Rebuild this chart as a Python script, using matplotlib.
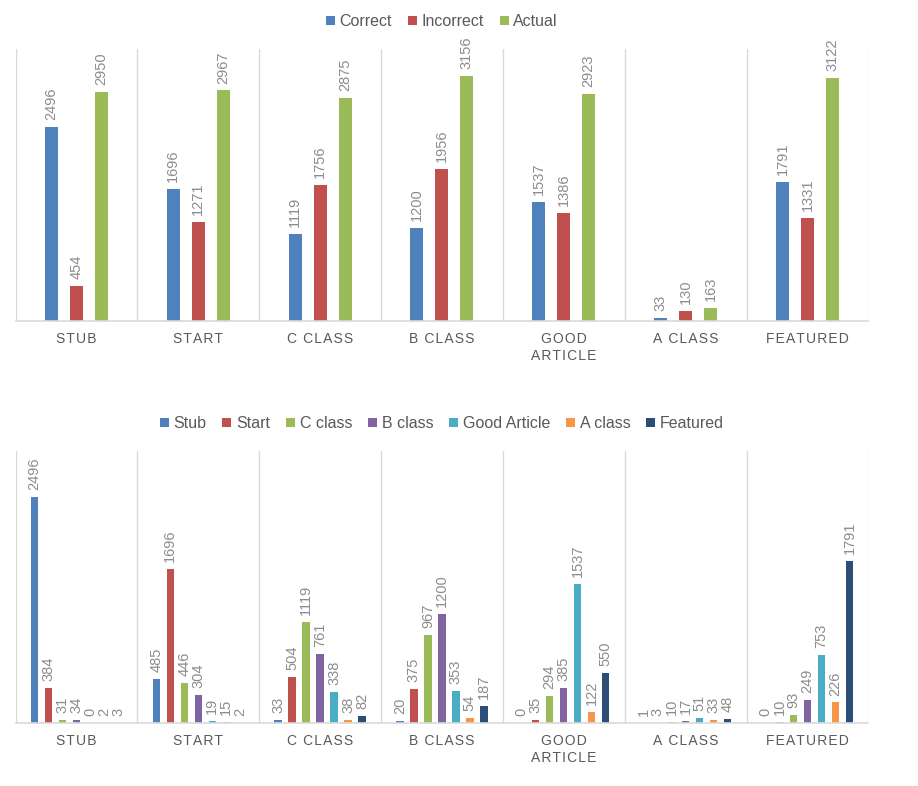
import numpy as np
import matplotlib.pyplot as plt

plt.rcParams['font.family'] = ['Liberation Sans', 'DejaVu Sans']

categories = ['Stub', 'Start', 'C class', 'B class', 'Good\nArticle', 'A class', 'Featured']

# top chart
correct = [2496, 1696, 1119, 1200, 1537, 33, 1791]
incorrect = [454, 1271, 1756, 1956, 1386, 130, 1331]
actual = [2950, 2967, 2875, 3156, 2923, 163, 3122]

# bottom chart: one series per predicted class
series_names = ['Stub', 'Start', 'C class', 'B class', 'Good Article', 'A class', 'Featured']
stub = [2496, 485, 33, 20, 0, 1, 0]
start = [384, 1696, 504, 375, 35, 3, 10]
c_class = [31, 446, 1119, 967, 294, 10, 93]
b_class = [34, 304, 761, 1200, 385, 17, 249]
good_article = [0, 19, 338, 353, 1537, 51, 753]
a_class = [2, 15, 38, 54, 122, 33, 226]
featured = [3, 2, 82, 187, 550, 48, 1791]

top_colors = ['#4F81BD', '#C0504D', '#9BBB59']
bottom_colors = ['#4F81BD', '#C0504D', '#9BBB59', '#8064A2', '#4BACC6', '#F79646', '#2C4D75']

grid_color = '#D9D9D9'
text_color = '#595959'
label_color = '#8C8C8C'


def spaced(s):
    # mimic Excel's letter spacing on category labels
    return '\n'.join('\u200a'.join(line.upper()) for line in s.split('\n'))


def style_axes(ax, ymax):
    x = np.arange(len(categories))
    ax.set_xlim(-0.5, len(categories) - 0.5)
    ax.set_ylim(0, ymax)
    ax.set_yticks([])
    ax.set_xticks(x)
    ax.set_xticklabels([spaced(c) for c in categories], fontsize=10,
                       color=text_color, linespacing=1.3)
    ax.set_xticks(np.arange(len(categories) + 1) - 0.5, minor=True)
    ax.tick_params(which='both', length=0, pad=8)
    ax.grid(which='minor', axis='x', color=grid_color, lw=1)
    for s in ['top', 'right', 'left']:
        ax.spines[s].set_visible(False)
    ax.spines['bottom'].set_color(grid_color)
    ax.spines['bottom'].set_linewidth(1.2)


def add_labels(ax, rects):
    for r in rects:
        ax.annotate(str(int(r.get_height())),
                    (r.get_x() + r.get_width() / 2, r.get_height()),
                    xytext=(0, 5), textcoords='offset points',
                    ha='center', va='bottom', rotation=90,
                    fontsize=10.5, color=label_color)


def add_legend(ax, ncol):
    ax.legend(loc='lower center', bbox_to_anchor=(0.5, 1.05), ncol=ncol, frameon=False,
              fontsize=11.5, labelcolor=text_color, handlelength=0.55, handleheight=0.55,
              handletextpad=0.3, columnspacing=1.0, borderaxespad=0)


fig = plt.figure(figsize=(9.18, 7.86), dpi=100)
ax1 = fig.add_axes([0.0169, 0.5916, 0.929, 0.346])
ax2 = fig.add_axes([0.0169, 0.0802, 0.929, 0.346])

x = np.arange(len(categories))

# top chart
width = 0.107
step = 0.205
top_data = [correct, incorrect, actual]
top_names = ['Correct', 'Incorrect', 'Actual']
for i, (vals, name) in enumerate(zip(top_data, top_names)):
    rects = ax1.bar(x + (i - 1) * step, vals, width, color=top_colors[i], label=name)
    add_labels(ax1, rects)
style_axes(ax1, 3500)
add_legend(ax1, 3)

# bottom chart
width = 0.06
step = 0.115
bottom_data = [stub, start, c_class, b_class, good_article, a_class, featured]
for i, (vals, name) in enumerate(zip(bottom_data, series_names)):
    rects = ax2.bar(x + (i - 3) * step, vals, width, color=bottom_colors[i], label=name)
    add_labels(ax2, rects)
style_axes(ax2, 3000)
add_legend(ax2, 7)

plt.savefig('out.png', dpi=100)
